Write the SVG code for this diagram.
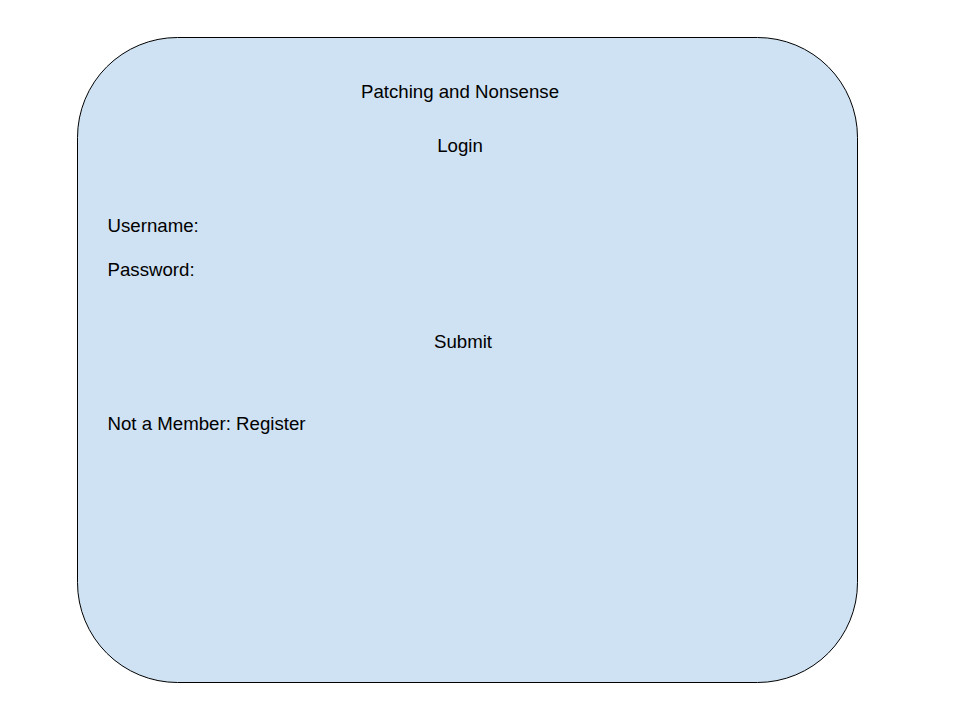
<svg xmlns="http://www.w3.org/2000/svg" width="960" height="720" viewBox="0 0 960 720">
<style>
.t{font-family:"Liberation Sans",Arial,sans-serif;font-size:18.67px;fill:#000}
.c{text-anchor:middle}
</style>
<rect width="960" height="720" fill="#fff"/>
<g id="panel">
<rect x="77.5" y="37.5" width="780" height="645" rx="100" ry="100" fill="#cfe2f3" stroke="#000" stroke-width="1"/>
</g>
<g id="title"><text class="t c" x="460" y="97.5">Patching and Nonsense</text></g>
<g id="login"><text class="t c" x="460" y="152">Login</text></g>
<g id="username"><text class="t" x="107.5" y="231.5">Username:</text></g>
<g id="password"><text class="t" x="107.5" y="275.5">Password:</text></g>
<g id="submit"><text class="t c" x="463" y="348">Submit</text></g>
<g id="register"><text class="t" x="107.5" y="430">Not a Member: Register</text></g>
<g id="connectors"></g>
</svg>
